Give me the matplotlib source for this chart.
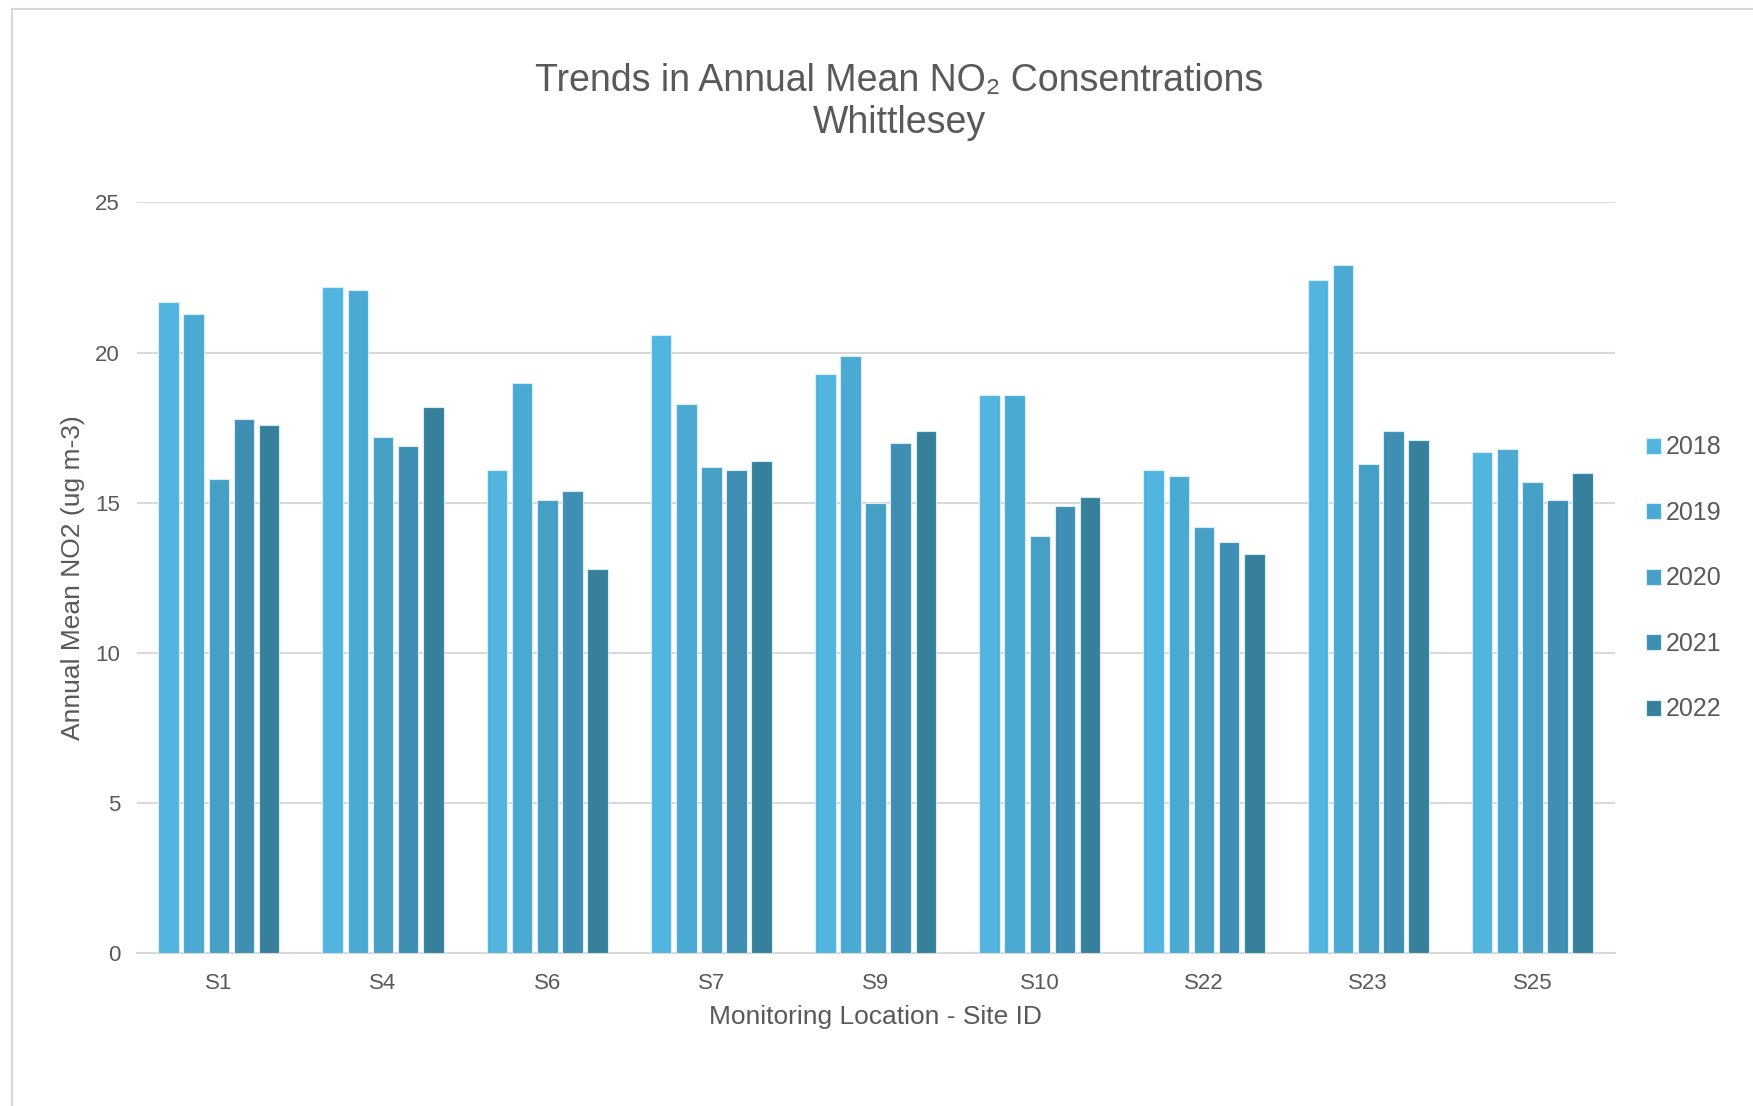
import numpy as np
import matplotlib
matplotlib.use("Agg")
import matplotlib.pyplot as plt

plt.rcParams['font.family'] = ['Liberation Sans', 'DejaVu Sans']

# Annual mean NO2 per site
sites = ["S1", "S4", "S6", "S7", "S9", "S10", "S22", "S23", "S25"]
years = ["2018", "2019", "2020", "2021", "2022"]
no2_2018 = [21.7, 22.2, 16.1, 20.6, 19.3, 18.6, 16.1, 22.4, 16.7]
no2_2019 = [21.3, 22.1, 19.0, 18.3, 19.9, 18.6, 15.9, 22.9, 16.8]
no2_2020 = [15.8, 17.2, 15.1, 16.2, 15.0, 13.9, 14.2, 16.3, 15.7]
no2_2021 = [17.8, 16.9, 15.4, 16.1, 17.0, 14.9, 13.7, 17.4, 15.1]
no2_2022 = [17.6, 18.2, 12.8, 16.4, 17.4, 15.2, 13.3, 17.1, 16.0]
series = [no2_2018, no2_2019, no2_2020, no2_2021, no2_2022]
colors = ["#52B5E0", "#4BAAD3", "#469FC5", "#3F8EB3", "#37809C"]

text_col = "#595959"

fig = plt.figure(figsize=(17.53, 11.06), dpi=100)
ax = fig.add_axes([0.078, 0.138, 0.843, 0.679])

x = np.arange(len(sites))
step = 0.153
for i, (vals, c, yr) in enumerate(zip(series, colors, years)):
    ax.bar(x + (i - 2) * step, vals, width=step * 0.82, color=c,
           edgecolor="#d8eef7", linewidth=0.8, label=yr, zorder=3)

ax.set_xlim(-0.5, len(sites) - 0.5)
ax.set_ylim(0, 25)
ax.set_yticks([0, 5, 10, 15, 20, 25])
ax.set_xticks(x)
ax.set_xticklabels(sites)
ax.yaxis.grid(True, color="#d9d9d9", linewidth=1.5, zorder=0)
for s in ["top", "right", "left"]:
    ax.spines[s].set_visible(False)
ax.spines["bottom"].set_color("#d9d9d9")
ax.spines["bottom"].set_linewidth(1.5)
ax.tick_params(axis="both", length=0, labelsize=16, colors=text_col, pad=14)
ax.tick_params(axis="y", pad=12)

ax.set_xlabel("Monitoring Location - Site ID", fontsize=19, color=text_col, labelpad=8)
ax.set_ylabel("Annual Mean NO2 (ug m-3)", fontsize=19, color=text_col, labelpad=7)

fig.text(0.513, 0.927, "Trends in Annual Mean NO\u2082 Consentrations", ha="center",
         va="center", fontsize=27, color=text_col)
fig.text(0.513, 0.889, "Whittlesey", ha="center", va="center", fontsize=27, color=text_col)

leg = fig.legend(loc="center left", bbox_to_anchor=(0.926, 0.477), frameon=False,
                 fontsize=18, labelcolor=text_col, handlelength=0.6, handleheight=0.6,
                 handletextpad=0.2, labelspacing=1.66)

# light border of the chart area
fig.add_artist(plt.Line2D([12 / 1753, 12 / 1753], [0, 1 - 9 / 1106], color="#d9d9d9",
                          linewidth=1.5, transform=fig.transFigure))
fig.add_artist(plt.Line2D([12 / 1753, 1], [1 - 9 / 1106, 1 - 9 / 1106], color="#d9d9d9",
                          linewidth=1.5, transform=fig.transFigure))

plt.savefig("out.png", dpi=100)
